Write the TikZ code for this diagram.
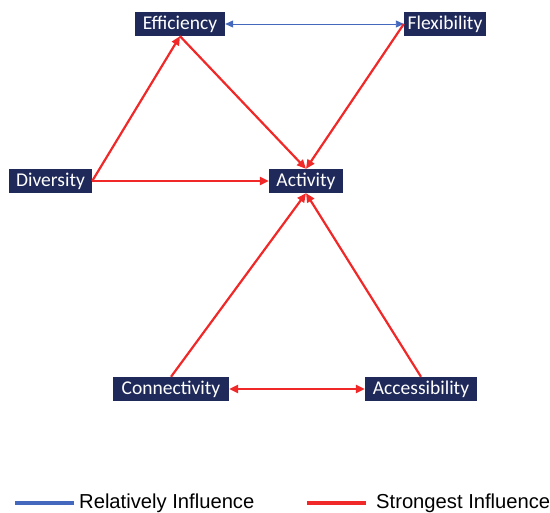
\documentclass[tikz,border=0pt]{standalone}
\usepackage{fontspec}
\setmainfont{Carlito}
\newfontfamily\legfont{Liberation Sans}
\usetikzlibrary{arrows.meta}
\definecolor{boxnavy}{RGB}{31,42,90}
\definecolor{strongred}{RGB}{240,40,40}
\definecolor{relblue}{RGB}{68,104,190}
\tikzset{
  factor/.style={fill=boxnavy, text=white, font=\fontsize{19.5}{19.5}\selectfont, inner xsep=3pt, inner ysep=0pt, minimum height=24pt, anchor=center},
  strong/.style={draw=strongred, line width=2.2pt, -{Triangle[length=9pt,width=8pt]}},
  strongboth/.style={strong, {Triangle[length=9pt,width=8pt]}-{Triangle[length=9pt,width=8pt]}},
  relative/.style={draw=relblue, line width=0.9pt, {Triangle[length=8pt,width=7pt]}-{Triangle[length=8pt,width=7pt]}},
  legtext/.style={font=\legfont\fontsize{20.2}{20.2}\selectfont, anchor=west, inner sep=0pt}
}
\begin{document}
\begin{tikzpicture}[x=1pt,y=-1pt]
\useasboundingbox (0,0) rectangle (550,513);
\node[factor, minimum width=90pt] (Efficiency) at (180,24) {Efficiency};
\node[factor, minimum width=82pt] (Flexibility) at (445,24) {Flexibility};
\node[factor, minimum width=83pt] (Diversity) at (50.5,181) {Diversity};
\node[factor, minimum width=74pt] (Activity) at (306,181) {Activity};
\node[factor, minimum width=116pt] (Connectivity) at (171,389) {Connectivity};
\node[factor, minimum width=112pt] (Accessibility) at (421,389) {Accessibility};

\draw[relative] (Efficiency.east) -- (Flexibility.west);
\draw[strong] (Diversity.east) -- (Efficiency.south);
\draw[strong] (Efficiency.south) -- (Activity.north);
\draw[strong] (Flexibility.west) -- (Activity.north);
\draw[strong] (Diversity.east) -- (Activity.west);
\draw[strong] (Connectivity.north) -- (Activity.south);
\draw[strong] (Accessibility.north) -- (Activity.south);
\draw[strongboth] (Connectivity.east) -- (Accessibility.west);

\coordinate (b1) at (15,503);
\coordinate (b2) at (74,503);
\coordinate (r1) at (307,503);
\coordinate (r2) at (366,503);
\draw[draw=relblue, line width=4.5pt] (b1) -- (b2);
\draw[draw=strongred, line width=4.5pt] (r1) -- (r2);
\node[legtext] (relText) at (79,503) {Relatively Influence};
\node[legtext] (strText) at (376,503) {Strongest Influence};
\end{tikzpicture}
\end{document}
